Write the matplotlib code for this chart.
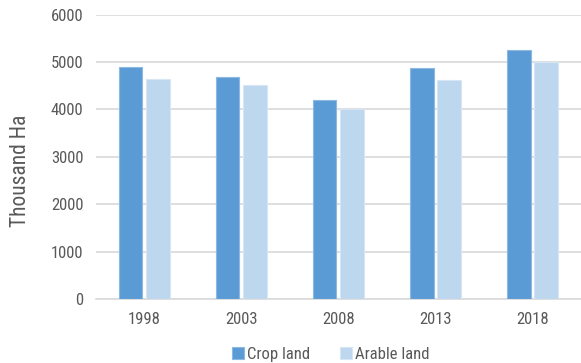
import matplotlib
matplotlib.use("Agg")
import matplotlib.pyplot as plt
import numpy as np

plt.rcParams["font.family"] = ["Roboto Condensed", "Roboto", "DejaVu Sans"]

years = ["1998", "2003", "2008", "2013", "2018"]
crop_land = [4900, 4680, 4200, 4880, 5250]
arable_land = [4650, 4510, 4000, 4610, 5000]

crop_color = "#5B9BD5"
arable_color = "#BDD7EE"
text_color = "#595959"
grid_color = "#D9D9D9"

fig = plt.figure(figsize=(5.81, 3.63), dpi=100)
ax = fig.add_axes([0.165, 0.176, 0.835, 0.784])

x = np.arange(len(years))
w = 0.24
ax.bar(x - 0.14, crop_land, w, color=crop_color, edgecolor="#8DB8E2",
       linewidth=0.8, label="Crop land", zorder=3)
ax.bar(x + 0.14, arable_land, w, color=arable_color, edgecolor="#D6E6F5",
       linewidth=0.8, label="Arable land", zorder=3)

ax.set_xlim(-0.5, len(years) - 0.5)
ax.set_ylim(0, 6000)
ax.set_yticks(range(0, 6001, 1000))
ax.set_xticks(x)
ax.set_xticklabels(years)
ax.yaxis.grid(True, color=grid_color, linewidth=1.2, zorder=0)
ax.set_axisbelow(True)

for s in ["top", "right", "left"]:
    ax.spines[s].set_visible(False)
ax.spines["bottom"].set_color(grid_color)
ax.spines["bottom"].set_linewidth(1.2)
ax.tick_params(axis="both", length=0, labelsize=12, colors=text_color)
ax.tick_params(axis="y", pad=9)
ax.tick_params(axis="x", pad=9)

ax.set_ylabel("Thousand Ha", fontsize=15.5, color=text_color)
ax.yaxis.set_label_coords(-0.134, 0.45)

ax.legend(loc="upper center", bbox_to_anchor=(0.485, -0.115), ncol=2,
          frameon=False, fontsize=12, handlelength=0.7, handleheight=0.7,
          handletextpad=0.2, columnspacing=1.8, labelcolor=text_color)

fig.savefig("out.png", dpi=100)
